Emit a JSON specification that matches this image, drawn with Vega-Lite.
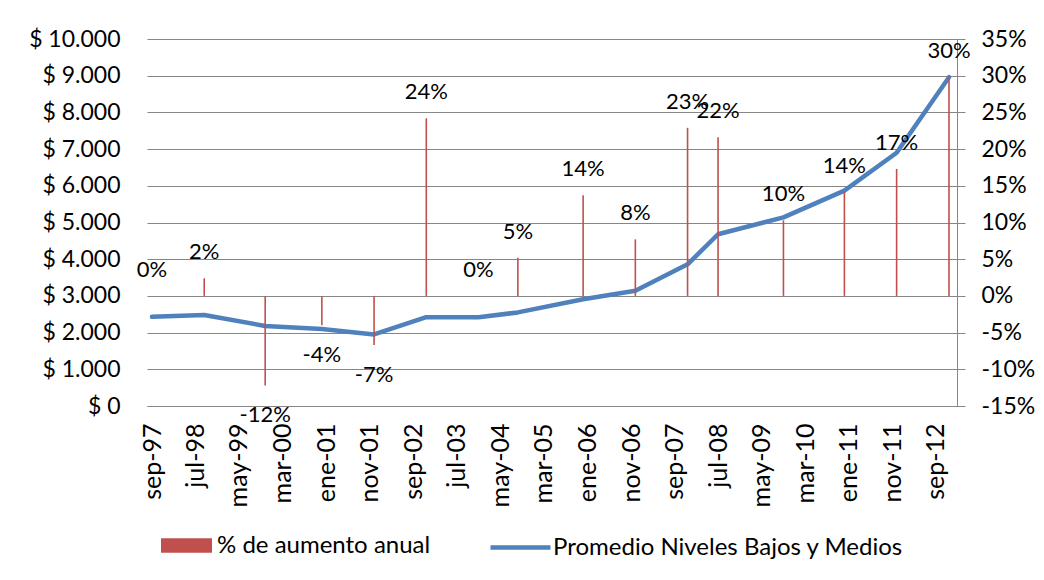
{
  "$schema": "https://vega.github.io/schema/vega-lite/v6.json",
  "width": 810,
  "height": 367,
  "autosize": {"type": "none"},
  "padding": {"left": 147, "top": 39, "right": 87, "bottom": 174},
  "background": "white",
  "config": {
    "view": {"stroke": null},
    "font": "Lato",
    "locale": {"number": {"decimal": ".", "thousands": ",", "grouping": [3], "currency": ["$", ""], "minus": "-"}},
    "axis": {"labelFont": "Lato", "labelFontSize": 23, "labelColor": "#000000", "domainColor": "#868686", "tickColor": "#868686", "gridColor": "#868686", "gridWidth": 1, "domainWidth": 1, "tickWidth": 1, "labelLimit": 0},
    "legend": {"labelFont": "Lato", "labelFontSize": 24, "labelColor": "#000000", "padding": 0, "labelOffset": 4, "orient": "none", "title": null, "labelLimit": 0}
  },
  "data": {
    "values": [
      {"date": "1997-09-01", "value": 2430, "pct": 0.0},
      {"date": "1998-09-01", "value": 2480, "pct": 0.024},
      {"date": "1999-11-01", "value": 2180, "pct": -0.122},
      {"date": "2000-12-01", "value": 2100, "pct": -0.04},
      {"date": "2001-12-01", "value": 1950, "pct": -0.067},
      {"date": "2002-12-01", "value": 2420, "pct": 0.242},
      {"date": "2003-12-01", "value": 2420, "pct": 0.0},
      {"date": "2004-09-01", "value": 2550, "pct": 0.052},
      {"date": "2005-12-01", "value": 2910, "pct": 0.137},
      {"date": "2006-12-01", "value": 3140, "pct": 0.077},
      {"date": "2007-12-01", "value": 3860, "pct": 0.229},
      {"date": "2008-07-01", "value": 4680, "pct": 0.216},
      {"date": "2009-10-01", "value": 5140, "pct": 0.103},
      {"date": "2010-12-01", "value": 5870, "pct": 0.142},
      {"date": "2011-12-01", "value": 6900, "pct": 0.173},
      {"date": "2012-12-01", "value": 8960, "pct": 0.298}
    ]
  },
  "encoding": {
    "x": {
      "field": "date",
      "type": "temporal",
      "scale": {"type": "utc", "domain": [{"year": 1997, "month": 9, "date": 1, "utc": true}, {"year": 2012, "month": 12, "date": 22, "utc": true}]},
      "axis": {
        "title": null,
        "grid": false,
        "ticks": false,
        "domain": true,
        "labelAngle": 270,
        "labelPadding": 17,
        "labelFontSize": 25,
        "labelOverlap": false,
        "values": [
          {"year": 1997, "month": 9, "date": 1, "utc": true},
          {"year": 1998, "month": 7, "date": 1, "utc": true},
          {"year": 1999, "month": 5, "date": 1, "utc": true},
          {"year": 2000, "month": 3, "date": 1, "utc": true},
          {"year": 2001, "month": 1, "date": 1, "utc": true},
          {"year": 2001, "month": 11, "date": 1, "utc": true},
          {"year": 2002, "month": 9, "date": 1, "utc": true},
          {"year": 2003, "month": 7, "date": 1, "utc": true},
          {"year": 2004, "month": 5, "date": 1, "utc": true},
          {"year": 2005, "month": 3, "date": 1, "utc": true},
          {"year": 2006, "month": 1, "date": 1, "utc": true},
          {"year": 2006, "month": 11, "date": 1, "utc": true},
          {"year": 2007, "month": 9, "date": 1, "utc": true},
          {"year": 2008, "month": 7, "date": 1, "utc": true},
          {"year": 2009, "month": 5, "date": 1, "utc": true},
          {"year": 2010, "month": 3, "date": 1, "utc": true},
          {"year": 2011, "month": 1, "date": 1, "utc": true},
          {"year": 2011, "month": 11, "date": 1, "utc": true},
          {"year": 2012, "month": 9, "date": 1, "utc": true}
        ],
        "labelExpr": "['ene','feb','mar','abr','may','jun','jul','ago','sep','oct','nov','dic'][utcmonth(datum.value)] + '-' + utcFormat(datum.value, '%y')"
      }
    }
  },
  "layer": [
    {
      "mark": {"type": "line", "strokeWidth": 4.5, "strokeCap": "round", "strokeJoin": "round"},
      "encoding": {
        "y": {
          "field": "value",
          "type": "quantitative",
          "scale": {"domain": [0, 10000], "nice": false, "zero": true},
          "axis": {
            "orient": "left",
            "title": null,
            "values": [0, 1000, 2000, 3000, 4000, 5000, 6000, 7000, 8000, 9000, 10000],
            "labelExpr": "'$ ' + replace(format(datum.value, ',.0f'), ',', '.')",
            "grid": true,
            "domain": false,
            "ticks": false,
            "labelPadding": 27
          }
        },
        "stroke": {
          "datum": "Promedio Niveles Bajos y Medios",
          "scale": {"range": ["#4F81BD"]},
          "legend": {"legendX": 341, "legendY": 476, "symbolType": "stroke", "symbolSize": 3600, "symbolStrokeWidth": 4.5, "labelOffset": 0}
        }
      }
    },
    {
      "encoding": {
        "y": {
          "field": "pct",
          "type": "quantitative",
          "scale": {"domain": [-0.15, 0.35], "nice": false},
          "axis": {
            "orient": "right",
            "title": null,
            "values": [-0.15, -0.1, -0.05, 0, 0.05, 0.1, 0.15, 0.2, 0.25, 0.3, 0.35],
            "format": ".0%",
            "grid": false,
            "domain": true,
            "ticks": true,
            "tickSize": 8,
            "labelPadding": 16
          }
        }
      },
      "layer": [
        {
          "mark": {"type": "bar", "size": 1.6},
          "encoding": {
            "color": {
              "datum": "% de aumento anual",
              "scale": {"range": ["#C0504D"]},
              "legend": {"legendX": 14, "legendY": 481, "symbolType": "M-1,-0.283H1V0.283H-1Z", "symbolSize": 2601, "symbolStrokeWidth": 0, "labelOffset": 5}
            }
          }
        },
        {
          "transform": [{"filter": "datum.pct >= 0"}],
          "mark": {"type": "text", "font": "Lato", "fontSize": 22, "color": "#000000", "baseline": "middle", "align": "center", "dy": -26},
          "encoding": {"text": {"field": "pct", "type": "quantitative", "format": ".0%"}}
        },
        {
          "transform": [{"filter": "datum.pct < 0"}],
          "mark": {"type": "text", "font": "Lato", "fontSize": 22, "color": "#000000", "baseline": "middle", "align": "center", "dy": 30},
          "encoding": {"text": {"field": "pct", "type": "quantitative", "format": ".0%"}}
        }
      ]
    }
  ],
  "resolve": {"scale": {"y": "independent"}}
}
